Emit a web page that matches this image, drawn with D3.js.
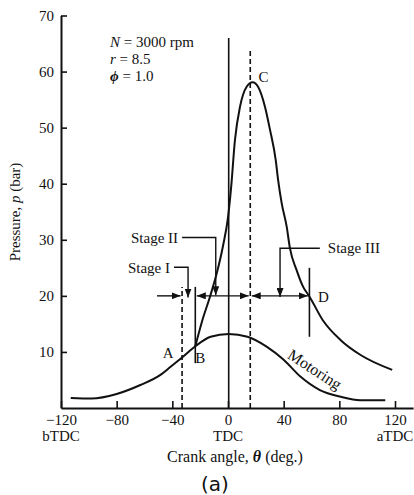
<!DOCTYPE html>
<html>
<head>
    <meta charset="utf-8">
    <title>Pressure vs crank angle</title>
    <script src="https://cdn.jsdelivr.net/npm/d3@7"></script>
    <style>
        body { margin: 0; background: #fff; }
        text { font-family: "Liberation Serif", "Times New Roman", serif; fill: #111; }
    </style>
</head>
<body>
<div id="chart"></div>
<script>
    // crank angle (deg) / pressure (bar)
    var firingAngle = [-23.5, -18, -13, -8, -3.6, 0, 2.2, 5, 8.6, 13.4, 17.7, 21.6, 26.6, 30.2, 34.3, 36, 38.6, 42.2, 44.5, 49.3, 54, 58.5, 68, 81, 95, 118];
    var firingPressure = [11.0, 16.0, 19.8, 24.1, 28.9, 34.0, 39.2, 47.8, 53.7, 57.3, 58.1, 57.3, 53.7, 49.6, 44.2, 40.7, 36.5, 32.3, 28.5, 24.6, 21.6, 19.9, 15.7, 12.1, 9.5, 6.8];

    var motoringAngle = [-113, -98, -80, -63, -48, -41, -33, -23.5, -12.5, 0.5, 14, 28, 40, 52, 66, 81, 95, 113];
    var motoringPressure = [1.8, 1.7, 2.5, 4.1, 6.0, 7.4, 9.0, 11.0, 12.7, 13.2, 12.7, 10.9, 8.6, 5.6, 3.2, 2.0, 1.4, 1.4];

    var xTicks = [-120, -80, -40, 0, 40, 80, 120];
    var yTicks = [10, 20, 30, 40, 50, 60, 70];
    var xSubLabels = [[-120, 'bTDC'], [0, 'TDC'], [120, 'aTDC']];

    // marker lines: [angle, pFrom, pTo, dashed]
    var markers = [
        [-33, 0, 21.6, true],
        [-23.5, 8, 21.6, false],
        [0.5, 0, 66, false],
        [16, 0, 64, true],
        [58.5, 12.7, 25, false]
    ];
    var points = [['A', -43, 9.8], ['B', -20, 9.0], ['C', 25.5, 59], ['D', 68.5, 19.8]];
    var stages = [
        ['Stage I', [[-38.8, 25.1], [-28.7, 25.1], [-28.7, 19.7]]],
        ['Stage II', [[-33, 30.4], [-8.8, 30.4], [-8.8, 20.1]]],
        ['Stage III', [[66, 28.5], [37.4, 28.5], [37.4, 19.8]]]
    ];
    var stageP = 20;

    var width = 414, height = 495;
    var x = d3.scaleLinear().domain([-120, 120]).range([61, 395]);
    var y = d3.scaleLinear().domain([0, 70]).range([408, 15.5]);

    var svg = d3.select('#chart').append('svg')
        .attr('width', width)
        .attr('height', height);

    var defs = svg.append('defs');
    defs.append('marker')
        .attr('id', 'arrow')
        .attr('markerUnits', 'userSpaceOnUse')
        .attr('markerWidth', 9)
        .attr('markerHeight', 7)
        .attr('refX', 9)
        .attr('refY', 3.5)
        .attr('orient', 'auto-start-reverse')
        .append('path')
        .attr('d', 'M0,0L9,3.5L0,7Z')
        .attr('fill', '#111');

    // axes
    var xAxis = d3.axisBottom(x.copy().domain([-120, 133]).range([61, x(133)]))
        .tickValues(xTicks)
        .tickSizeInner(-7)
        .tickSizeOuter(0)
        .tickPadding(6);
    var xg = svg.append('g')
        .attr('transform', `translate(0,${y(0)})`)
        .call(xAxis);
    var yAxis = d3.axisLeft(y)
        .tickValues(yTicks)
        .tickSizeInner(-6)
        .tickSizeOuter(0)
        .tickPadding(7);
    var yg = svg.append('g')
        .attr('transform', `translate(${x(-120)},0)`)
        .call(yAxis);

    [xg, yg].forEach(g => {
        g.select('.domain').attr('stroke', '#111').attr('stroke-width', 2);
        g.selectAll('.tick line').attr('stroke', '#111').attr('stroke-width', 1.6);
        g.selectAll('.tick text')
            .attr('font-family', '"Liberation Serif", "Times New Roman", serif')
            .attr('font-size', 15)
            .attr('fill', '#111');
    });

    svg.selectAll('.sub')
        .data(xSubLabels)
        .join('text')
        .attr('x', d => x(d[0]))
        .attr('y', 441)
        .attr('text-anchor', 'middle')
        .attr('font-size', 15)
        .text(d => d[1]);

    var xt = svg.append('text')
        .attr('x', 235)
        .attr('y', 462)
        .attr('text-anchor', 'middle')
        .attr('font-size', 16);
    xt.append('tspan').text('Crank angle, ');
    xt.append('tspan').attr('font-style', 'italic').attr('font-weight', 'bold').text('θ');
    xt.append('tspan').text(' (deg.)');

    var yt = svg.append('text')
        .attr('transform', 'translate(20,212) rotate(-90)')
        .attr('text-anchor', 'middle')
        .attr('font-size', 15);
    yt.append('tspan').text('Pressure, ');
    yt.append('tspan').attr('font-style', 'italic').text('p');
    yt.append('tspan').text(' (bar)');

    svg.append('text')
        .attr('x', 215)
        .attr('y', 491)
        .attr('text-anchor', 'middle')
        .attr('font-size', 20)
        .style('font-family', '"DejaVu Sans", sans-serif')
        .text('(a)');

    // operating conditions
    var cond = [['N', ' = 3000 rpm'], ['r', ' = 8.5'], ['ϕ', ' = 1.0']];
    cond.forEach((c, i) => {
        var t = svg.append('text')
            .attr('x', 110)
            .attr('y', 47 + i * 17)
            .attr('font-size', 15);
        t.append('tspan').attr('font-style', 'italic').attr('font-weight', i == 2 ? 'bold' : 'normal').text(c[0]);
        t.append('tspan').text(c[1]);
    });

    // marker lines
    svg.selectAll('.mk')
        .data(markers)
        .join('line')
        .attr('x1', d => x(d[0]))
        .attr('x2', d => x(d[0]))
        .attr('y1', d => y(d[1]))
        .attr('y2', d => y(d[2]))
        .attr('stroke', '#111')
        .attr('stroke-width', 1.6)
        .attr('stroke-dasharray', d => d[3] ? '5,3' : null);

    // curves
    var line = d3.line()
        .x(d => x(d[0]))
        .y(d => y(d[1]))
        .curve(d3.curveMonotoneX);

    svg.append('path')
        .datum(motoringAngle.map((a, i) => [a, motoringPressure[i]]))
        .attr('d', line)
        .attr('fill', 'none')
        .attr('stroke', '#111')
        .attr('stroke-width', 2);

    svg.append('path')
        .datum(firingAngle.map((a, i) => [a, firingPressure[i]]))
        .attr('d', line)
        .attr('fill', 'none')
        .attr('stroke', '#111')
        .attr('stroke-width', 2);

    // stage arrows along p = 20
    var arrows = [[-51, -33, false], [-23.5, 16, true], [16, 58.5, true]];
    arrows.forEach(a => {
        svg.append('line')
            .attr('x1', x(a[0]) + (a[2] ? 1.5 : 0))
            .attr('x2', x(a[1]) - 1.5)
            .attr('y1', y(stageP))
            .attr('y2', y(stageP))
            .attr('stroke', '#111')
            .attr('stroke-width', 1.4)
            .attr('marker-start', a[2] ? 'url(#arrow)' : null)
            .attr('marker-end', 'url(#arrow)');
    });

    stages.forEach((s, i) => {
        var pts = s[1];
        svg.append('path')
            .attr('d', d3.line().x(d => x(d[0])).y(d => y(d[1]))(pts))
            .attr('fill', 'none')
            .attr('stroke', '#111')
            .attr('stroke-width', 1.4)
            .attr('marker-end', 'url(#arrow)');
        var right = i < 2;
        svg.append('text')
            .attr('x', x(pts[0][0]) + (right ? -4 : 8))
            .attr('y', y(pts[0][1]))
            .attr('dy', '0.35em')
            .attr('text-anchor', right ? 'end' : 'start')
            .attr('font-size', 15)
            .text(s[0]);
    });

    svg.selectAll('.pt')
        .data(points)
        .join('text')
        .attr('x', d => x(d[1]))
        .attr('y', d => y(d[2]))
        .attr('dy', '0.35em')
        .attr('text-anchor', 'middle')
        .attr('font-size', 15)
        .text(d => d[0]);

    svg.append('text')
        .attr('transform', `translate(${x(42)},${y(9.0)}) rotate(33)`)
        .attr('font-size', 16)
        .text('Motoring');
</script>
</body>
</html>
